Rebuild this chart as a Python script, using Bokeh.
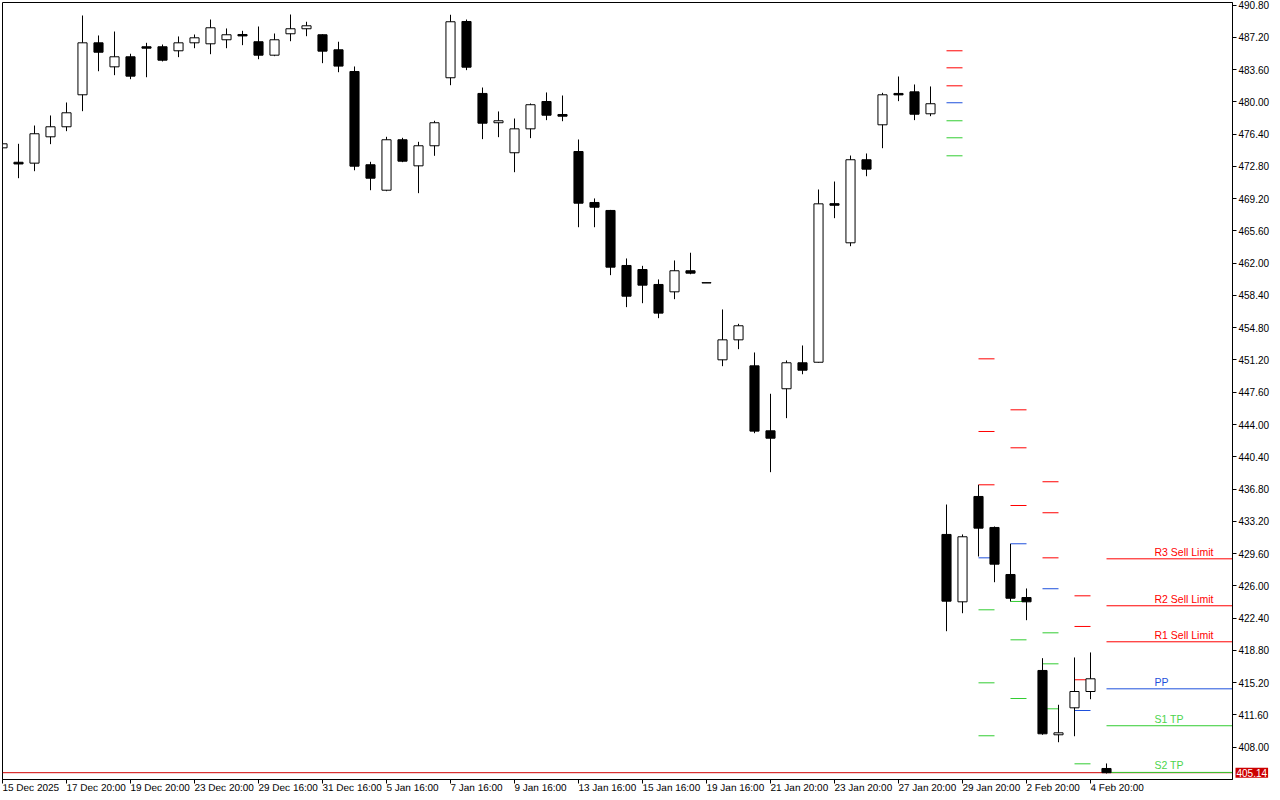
from bokeh.plotting import figure
from bokeh.models import Range1d, FixedTicker, PrintfTickFormatter, Label, ColumnDataSource
from bokeh.core.properties import value
from bokeh.embed import file_html
from bokeh.resources import INLINE

# ---------------- data ----------------
bar_index = list(range(70))

open_ = [474.88, 473.27, 473.17, 476.11, 477.23, 480.80, 486.60, 483.92, 485.04, 486.16,
         486.16, 485.71, 486.60, 486.49, 486.94, 487.53, 486.72, 485.22, 487.61, 488.17,
         487.50, 485.82, 483.40, 472.99, 470.15, 475.78, 472.87, 475.11, 482.70, 488.98,
         480.95, 477.68, 474.33, 477.00, 480.05, 478.60, 474.47, 468.78, 467.89, 461.75,
         461.30, 459.63, 458.81, 461.16, 459.83, 451.22, 453.45, 450.55, 443.30, 447.99,
         450.89, 450.95, 468.65, 464.28, 473.55, 477.45, 480.95, 481.13, 478.68, 431.73,
         424.21, 435.97, 432.51, 427.26, 424.69, 416.55, 409.37, 412.38, 414.20, 405.61]
high = [475.40, 475.33, 477.37, 478.49, 479.94, 489.65, 487.42, 487.86, 485.38, 486.60,
        486.41, 487.31, 487.53, 489.20, 488.20, 487.94, 488.42, 487.64, 489.76, 488.95,
        487.55, 486.72, 483.96, 473.32, 476.11, 476.00, 475.55, 477.90, 489.73, 489.20,
        481.61, 478.94, 478.15, 479.83, 481.06, 480.72, 475.81, 469.23, 467.95, 462.53,
        461.71, 460.19, 462.31, 463.17, 459.83, 456.84, 455.24, 452.04, 447.43, 451.15,
        452.82, 470.23, 471.12, 474.02, 474.25, 481.02, 482.84, 481.95, 481.73, 435.07,
        431.73, 437.27, 432.62, 430.69, 425.70, 417.92, 412.72, 418.00, 418.56, 406.17]
low = [474.80, 471.49, 472.27, 475.29, 476.74, 478.97, 483.43, 482.99, 482.54, 482.76,
       484.52, 485.00, 486.00, 485.33, 486.00, 486.34, 484.77, 485.11, 486.78, 487.34,
       484.33, 483.32, 472.38, 470.15, 470.04, 473.28, 469.82, 473.99, 481.87, 483.55,
       475.85, 476.07, 472.16, 475.96, 477.97, 477.85, 466.02, 466.02, 460.67, 457.10,
       457.54, 455.87, 457.99, 460.77, 459.80, 450.51, 452.41, 443.03, 438.68, 444.71,
       449.61, 450.90, 467.03, 463.90, 471.71, 474.84, 480.09, 477.97, 478.41, 420.93,
       422.94, 429.27, 426.40, 424.25, 422.16, 409.37, 408.54, 409.21, 413.34, 405.05]
close = [475.33, 473.08, 476.45, 477.23, 478.79, 486.60, 485.55, 485.04, 482.88, 486.00,
         484.66, 486.60, 487.16, 488.28, 487.50, 487.37, 485.22, 486.94, 488.17, 488.50,
         485.67, 484.00, 472.83, 471.49, 475.78, 473.39, 475.11, 477.68, 488.95, 483.88,
         477.63, 477.90, 477.00, 479.69, 478.52, 478.41, 468.70, 468.25, 461.56, 458.32,
         459.55, 456.43, 461.16, 460.89, 459.80, 453.45, 455.02, 443.26, 442.47, 450.89,
         450.06, 468.63, 468.47, 473.55, 472.50, 480.80, 480.79, 478.63, 479.80, 424.28,
         431.47, 432.43, 428.41, 424.61, 424.21, 409.48, 409.59, 414.20, 415.62, 405.14]

x_tick_index = [0, 4, 8, 12, 16, 20, 24, 28, 32, 36, 40, 44, 48, 52, 56, 60, 64, 68]
x_tick_labels = ["15 Dec 2025", "17 Dec 20:00", "19 Dec 20:00", "23 Dec 20:00",
                 "29 Dec 16:00", "31 Dec 16:00", "5 Jan 16:00", "7 Jan 16:00",
                 "9 Jan 16:00", "13 Jan 16:00", "15 Jan 16:00", "19 Jan 16:00",
                 "21 Jan 20:00", "23 Jan 20:00", "27 Jan 20:00", "29 Jan 20:00",
                 "2 Feb 20:00", "4 Feb 20:00"]
y_ticks = [408.00, 411.60, 415.20, 418.80, 422.40, 426.00, 429.60, 433.20, 436.80,
           440.40, 444.00, 447.60, 451.20, 454.80, 458.40, 462.00, 465.60, 469.20,
           472.80, 476.40, 480.00, 483.60, 487.20, 490.80]

# daily pivot levels (first bar of each day)
pivot_start = [59, 61, 63, 65, 67, 69]
r3 = [485.71, 451.33, 445.64, 437.61, 424.88, 429.01]
r2 = [483.81, 443.22, 441.40, 434.15, 421.46, 423.77]
r1 = [481.80, 437.27, 434.96, 429.12, 415.51, 419.75]
pp = [479.91, 429.12, 430.69, 425.67, 412.08, 414.50]
s1 = [477.90, 423.32, 424.25, 420.75, 406.13, 410.38]
s2 = [476.00, 415.17, 419.97, 417.29, 402.70, 405.17]
s3 = [473.99, 409.26, 413.42, 412.27, 396.75, 401.10]
last_labels = ["R3 Sell Limit", "R2 Sell Limit", "R1 Sell Limit", "PP", "S1 TP", "S2 TP"]
bid = 405.14

# ---------------- styling ----------------
FONT = "Liberation Sans"
X_START, X_END = 0, 76.875
Y_START, Y_END = 404.38, 491.10
RED = "#FF0000"
BLUE = "#1E50DC"
GREEN = "#32CD32"
TEXT_GREEN = "#4CD44C"

p = figure(frame_width=1230, frame_height=777,
           x_range=Range1d(X_START, X_END), y_range=Range1d(Y_START, Y_END),
           output_backend="svg", toolbar_location=None, y_axis_location="right",
           min_border_left=2, min_border_top=2, min_border_right=6, min_border_bottom=0,
           background_fill_color="white", border_fill_color="white")
p.grid.visible = False
p.outline_line_color = "black"
p.outline_line_width = 1
p.outline_line_alpha = 1.0

# bid line
p.segment(x0=[X_START], y0=[bid], x1=[X_END], y1=[bid], line_color="#D00000", line_width=1)

# pivot segments
level_values = [r3, r2, r1, pp, s1, s2, s3]
level_colors = [RED, RED, RED, BLUE, GREEN, GREEN, GREEN]
sx0, sx1, sy, sc = [], [], [], []
for vals, col in zip(level_values, level_colors):
    for k, start in enumerate(pivot_start):
        end = start + 1 if k < len(pivot_start) - 1 else X_END
        sx0.append(start)
        sx1.append(end)
        sy.append(vals[k])
        sc.append(col)
p.segment(x0="x0", y0="y", x1="x1", y1="y", line_color="c", line_width=1,
          source=ColumnDataSource(dict(x0=sx0, x1=sx1, y=sy, c=sc)))

# labels of the current day's levels
p.text(x=[72] * 6, y=[r3[-1], r2[-1], r1[-1], pp[-1], s1[-1], s2[-1]], text=last_labels,
       text_color=[RED, RED, RED, BLUE, TEXT_GREEN, TEXT_GREEN],
       text_font=value(FONT), text_font_size=value("10.5px"),
       text_baseline="bottom", text_align="left", y_offset=-1)

# candles
up = [c >= o for o, c in zip(open_, close)]
src = ColumnDataSource(dict(
    x=bar_index, h=high, l=low,
    top=[max(o, c) for o, c in zip(open_, close)],
    bottom=[min(o, c) for o, c in zip(open_, close)],
    fill=["white" if u else "black" for u in up]))
p.segment(x0="x", y0="h", x1="x", y1="l", source=src, line_color="black", line_width=1)
p.vbar(x="x", width=0.57, top="top", bottom="bottom", fill_color="fill",
       line_color="black", line_width=1, source=src)

# axes
xa = p.xaxis[0]
xa.ticker = FixedTicker(ticks=x_tick_index)
xa.major_label_overrides = {i: s for i, s in zip(x_tick_index, x_tick_labels)}
xa.major_tick_out = 4
xa.major_tick_in = 0
xa.minor_tick_out = 0
xa.minor_tick_in = 0
xa.major_label_orientation = -0.001
xa.major_label_standoff = 4
xa.major_label_text_font = FONT
xa.major_label_text_font_size = "10px"
xa.major_label_text_color = "black"
xa.axis_line_color = "black"

ya = p.yaxis[0]
ya.ticker = FixedTicker(ticks=y_ticks)
ya.formatter = PrintfTickFormatter(format="%.2f")
ya.major_tick_out = 4
ya.major_tick_in = 0
ya.minor_tick_out = 0
ya.minor_tick_in = 0
ya.major_label_standoff = 2
ya.major_label_text_font = FONT
ya.major_label_text_font_size = "10px"
ya.major_label_text_color = "black"
ya.axis_line_color = "black"

# current bid price tag on the price scale
p.add_layout(Label(x=X_END, y=bid, x_offset=3, text=f"{bid:.2f}",
                   text_font=FONT, text_font_size="10px", text_color="white",
                   text_baseline="middle", text_align="left",
                   background_fill_color="#CC0000", padding=1), "right")

open("out.html", "w").write(file_html(p, INLINE))
